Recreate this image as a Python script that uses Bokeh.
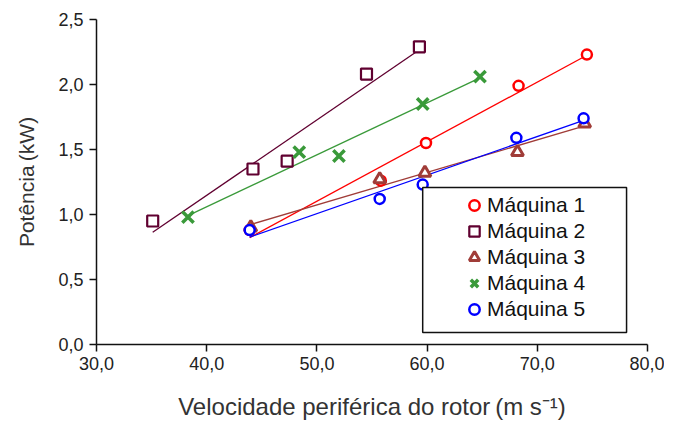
import numpy as np
from bokeh.plotting import figure
from bokeh.models import (Range1d, FixedTicker, CustomJSTickFormatter, Legend,
                          LegendItem, BoxAnnotation)
from bokeh.embed import file_html
from bokeh.resources import INLINE

# ---- data ----
series_names = ["Máquina 1", "Máquina 2", "Máquina 3", "Máquina 4", "Máquina 5"]
m1_x = [43.9, 55.8, 59.9, 68.3, 74.5]
m1_y = [0.88, 1.26, 1.55, 1.99, 2.23]
m2_x = [35.1, 44.2, 47.3, 54.5, 59.3]
m2_y = [0.95, 1.35, 1.41, 2.08, 2.29]
m3_x = [44.0, 55.7, 59.8, 68.2, 74.3]
m3_y = [0.90, 1.27, 1.32, 1.48, 1.70]
m4_x = [38.3, 48.4, 52.0, 59.6, 64.8]
m4_y = [0.98, 1.48, 1.45, 1.85, 2.06]
m5_x = [43.9, 55.7, 59.6, 68.1, 74.2]
m5_y = [0.88, 1.12, 1.23, 1.59, 1.74]
x_ticks = [30, 40, 50, 60, 70, 80]
y_ticks = [0.0, 0.5, 1.0, 1.5, 2.0, 2.5]

FONT = "Liberation Sans"

p = figure(frame_width=551, frame_height=325, min_border_left=96, min_border_right=17,
           min_border_top=19, min_border_bottom=82,
           x_range=Range1d(30, 80), y_range=Range1d(0, 2.5),
           output_backend="svg", toolbar_location=None)
p.outline_line_color = None
p.xgrid.visible = False
p.ygrid.visible = False
p.background_fill_color = "white"
p.border_fill_color = "white"

fmt = CustomJSTickFormatter(code="return tick.toFixed(1).replace('.', ',');")
for ax, ticks in ((p.xaxis[0], x_ticks), (p.yaxis[0], y_ticks)):
    ax.ticker = FixedTicker(ticks=ticks, minor_ticks=[])
    ax.formatter = fmt
    ax.axis_line_color = "#111111"
    ax.axis_line_width = 1.5
    ax.major_tick_line_color = "#111111"
    ax.major_tick_line_width = 1.5
    ax.major_tick_in = 0
    ax.major_tick_out = 7
    ax.minor_tick_line_color = None
    ax.major_label_text_font = FONT
    ax.major_label_text_font_size = "18px"
    ax.major_label_text_color = "#222222"
    ax.axis_label_text_font = FONT
    ax.axis_label_text_font_style = "normal"
    ax.axis_label_text_color = "#333333"

p.xaxis.axis_label = "Velocidade periférica do rotor\u2009(m s⁻¹)"
p.yaxis.axis_label = "Potência\u2009(kW)"
p.xaxis.axis_label_text_font_size = "24px"
p.yaxis.axis_label_text_font_size = "21px"
p.xaxis.major_label_standoff = 5
p.yaxis.major_label_standoff = 6
p.xaxis.axis_label_standoff = 20
p.yaxis.axis_label_standoff = 17

colors = ["#ff0000", "#600030", "#a03c38", "#3a9a3a", "#0000ff"]
markers = ["circle", "square", "triangle", "x", "circle"]
sizes = [10, 11, 12, 16, 10]
widths = [2.5, 2.2, 3.0, 3.5, 2.5]
xs_all = [m1_x, m2_x, m3_x, m4_x, m5_x]
ys_all = [m1_y, m2_y, m3_y, m4_y, m5_y]

# trendlines (linear fit of each series)
for xs, ys, c in zip(xs_all, ys_all, colors):
    coef = np.polyfit(xs, ys, 1)
    lx = [min(xs), max(xs)]
    ly = list(np.polyval(coef, lx))
    p.line(lx, ly, line_color=c, line_width=1.3)

renderers = []
for xs, ys, c, m, s, w in zip(xs_all, ys_all, colors, markers, sizes, widths):
    r = p.scatter(xs, ys, marker=m, size=s, line_color=c, line_width=w,
                  fill_color="white")
    renderers.append(r)

box = BoxAnnotation(left=59.6, right=78.1, top=1.208, bottom=0.092,
                    fill_color="white", fill_alpha=1.0,
                    line_color="#111111", line_width=1.5, line_alpha=1.0)
p.add_layout(box)

legend = Legend(items=[LegendItem(label=n, renderers=[r]) for n, r in zip(series_names, renderers)],
                location=(365, 22), padding=0, spacing=0, glyph_width=26, glyph_height=26,
                label_height=26, label_standoff=0, border_line_alpha=0,
                background_fill_alpha=0, label_text_font=FONT,
                label_text_font_size="21px", label_text_color="#111111", margin=0)
p.add_layout(legend)

open("out.html", "w").write(file_html(p, INLINE))
